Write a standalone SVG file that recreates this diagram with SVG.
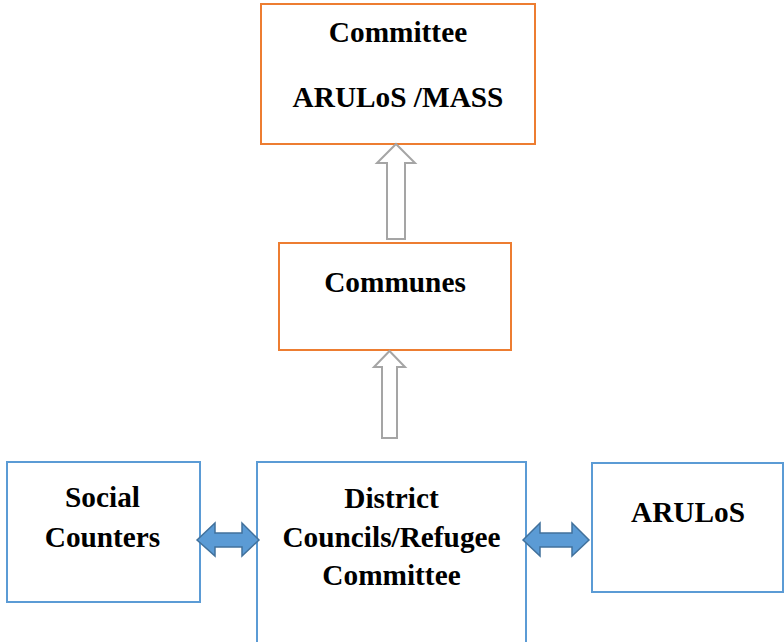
<svg xmlns="http://www.w3.org/2000/svg" width="784" height="642" viewBox="0 0 784 642">
<style>
.orange{fill:#fff;stroke:#ED7D31;stroke-width:2}
.blue{fill:#fff;stroke:#5B9BD5;stroke-width:2}
.up{fill:#fff;stroke:#A5A5A5;stroke-width:2}
.dbl{fill:#5B9BD5;stroke:#41719C;stroke-width:1.5}
text{font-family:'Liberation Serif', 'Times New Roman', Times, serif;font-weight:700;font-size:29.3px;fill:#000;text-anchor:middle}
</style>
<rect width="784" height="642" fill="#fff"/>
<g id="committee">
<rect class="orange" x="261" y="4" width="274" height="140"/>
<text x="398" y="42">Committee</text>
<text x="398" y="107">ARULoS /MASS</text>
</g>
<g id="communes">
<rect class="orange" x="279" y="243" width="232" height="107"/>
<text x="395" y="292">Communes</text>
</g>
<g id="social">
<rect class="blue" x="7" y="462" width="193" height="140"/>
<text x="102.5" y="507">Social</text>
<text x="102.5" y="547">Counters</text>
</g>
<g id="district">
<rect class="blue" x="257" y="462" width="269" height="182"/>
<text x="391.5" y="508">District</text>
<text x="391.5" y="547">Councils/Refugee</text>
<text x="391.5" y="585">Committee</text>
</g>
<g id="arulos">
<rect class="blue" x="592" y="463" width="191" height="129"/>
<text x="688" y="522">ARULoS</text>
</g>
<g id="connectors">
<polygon class="up" points="396,144 415,163 405,163 405,239 387,239 387,163 377,163"/>
<polygon class="up" points="389.5,351 405,367 397,367 397,438 382,438 382,367 374,367"/>
<polygon class="dbl" points="197,540 215,523 215,533 242,533 242,523 259,540 242,556 242,547 215,547 215,556"/>
<polygon class="dbl" points="523,540 540,523 540,533 572,533 572,523 589,540 572,556 572,547 540,547 540,556"/>
</g>
</svg>
